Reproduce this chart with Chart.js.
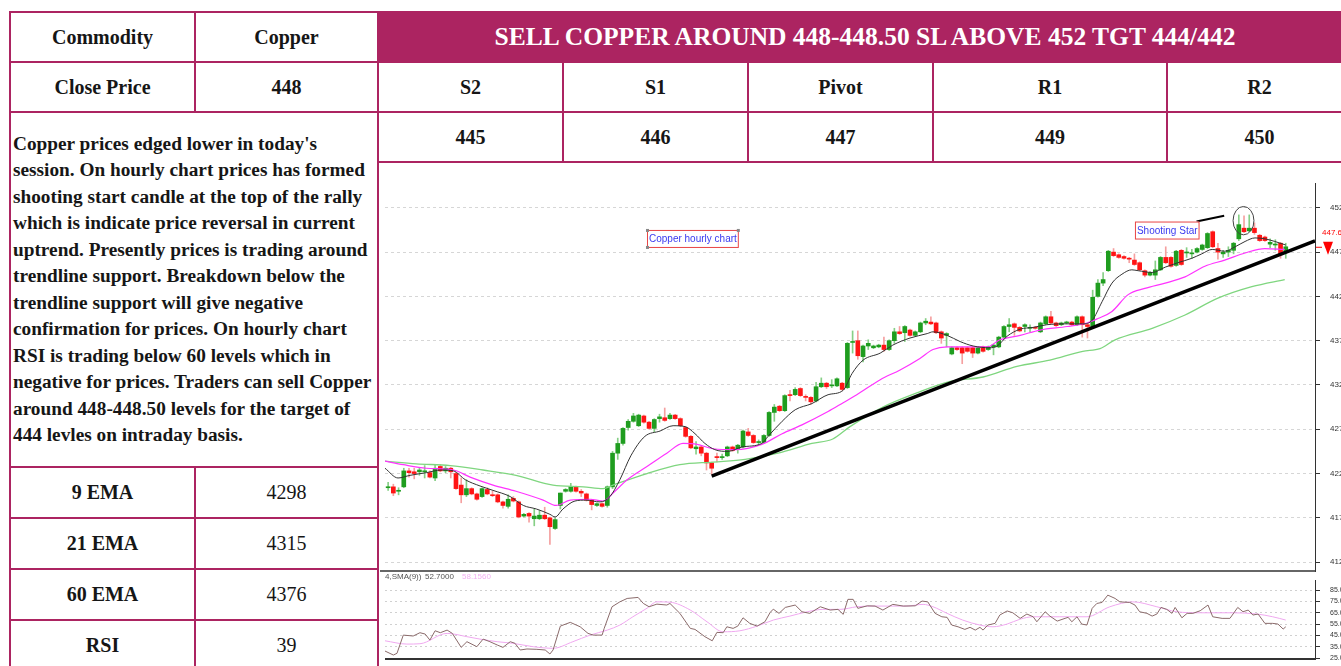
<!DOCTYPE html>
<html>
<head>
<meta charset="utf-8">
<script src="https://cdn.jsdelivr.net/npm/chart.js@4.4.1/dist/chart.umd.min.js"></script>
<style>
html,body{margin:0;padding:0;background:#fff;overflow:hidden;width:1341px;height:666px;}
.c{position:absolute;box-sizing:border-box;border:2px solid #ac2461;display:flex;align-items:center;justify-content:center;
   font-family:"Liberation Serif",serif;font-size:20px;font-weight:bold;color:#161616;white-space:nowrap;}
.n{font-weight:normal;}
#hdr{background:#ac2461;color:#fff;font-size:25.5px;}
#txt{justify-content:flex-start;padding-left:2px;font-size:19.3px;line-height:26.5px;}
canvas{position:absolute;}
</style>
</head>
<body>
<div class="c" style="left:9px;top:11px;width:187px;height:52px">Commodity</div>
<div class="c" style="left:194px;top:11px;width:185px;height:52px">Copper</div>
<div class="c" style="left:9px;top:61px;width:187px;height:52px">Close Price</div>
<div class="c" style="left:194px;top:61px;width:185px;height:52px">448</div>
<div class="c" id="txt" style="left:9px;top:111px;width:370px;height:357px"><div>Copper prices edged lower in today's<br>session. On hourly chart prices has formed<br>shooting start candle at the top of the rally<br>which is indicate price reversal in current<br>uptrend. Presently prices is trading around<br>trendline support. Breakdown below the<br>trendline support will give negative<br>confirmation for prices. On hourly chart<br>RSI is trading below 60 levels which in<br>negative for prices. Traders can sell Copper<br>around 448-448.50 levels for the target of<br>444 levles on intraday basis.</div></div>
<div class="c" style="left:9px;top:466px;width:187px;height:53px">9 EMA</div>
<div class="c n" style="left:194px;top:466px;width:185px;height:53px">4298</div>
<div class="c" style="left:9px;top:517px;width:187px;height:53px">21 EMA</div>
<div class="c n" style="left:194px;top:517px;width:185px;height:53px">4315</div>
<div class="c" style="left:9px;top:568px;width:187px;height:53px">60 EMA</div>
<div class="c n" style="left:194px;top:568px;width:185px;height:53px">4376</div>
<div class="c" style="left:9px;top:619px;width:187px;height:53px">RSI</div>
<div class="c n" style="left:194px;top:619px;width:185px;height:53px">39</div>

<div class="c" id="hdr" style="left:377px;top:11px;width:976px;height:52px">SELL COPPER AROUND 448-448.50 SL ABOVE 452 TGT 444/442</div>
<div class="c" style="left:377px;top:61px;width:187px;height:52px">S2</div>
<div class="c" style="left:562px;top:61px;width:187px;height:52px">S1</div>
<div class="c" style="left:747px;top:61px;width:187px;height:52px">Pivot</div>
<div class="c" style="left:932px;top:61px;width:236px;height:52px">R1</div>
<div class="c" style="left:1166px;top:61px;width:187px;height:52px">R2</div>
<div class="c" style="left:377px;top:111px;width:187px;height:52px">445</div>
<div class="c" style="left:562px;top:111px;width:187px;height:52px">446</div>
<div class="c" style="left:747px;top:111px;width:187px;height:52px">447</div>
<div class="c" style="left:932px;top:111px;width:236px;height:52px">449</div>
<div class="c" style="left:1166px;top:111px;width:187px;height:52px">450</div>
<div class="c" style="left:377px;top:161px;width:976px;height:511px"></div>

<canvas id="priceCanvas" width="970" height="408" style="left:380px;top:164px"></canvas>
<canvas id="rsiCanvas" width="970" height="97" style="left:380px;top:572px"></canvas>

<script>
// hourly candles
const opens = [
420.4,420.5,420.0,420.5,422.3,422.2,422.2,422.2,422.1,421.5,
422.8,422.3,422.6,422.0,420.7,419.6,420.3,419.7,419.4,420.2,
419.6,419.6,418.8,418.3,419.2,418.8,417.2,417.5,416.9,416.9,
417.3,417.0,415.8,418.4,420.0,420.0,420.5,420.0,419.7,419.0,
418.4,418.6,418.4,420.5,424.3,425.4,427.2,427.9,427.4,428.5,
427.8,427.1,428.2,428.3,428.2,428.6,428.2,427.2,426.2,424.8,
425.0,424.3,423.2,423.9,423.8,424.0,425.0,424.7,425.0,426.7,
426.3,425.5,425.5,426.3,428.9,429.6,429.1,430.9,430.9,431.6,
430.7,430.6,430.2,431.8,432.2,431.9,431.9,432.2,431.7,436.8,
437.0,435.2,436.4,436.2,436.3,436.5,436.0,437.0,438.0,437.9,
438.2,437.6,438.0,439.0,439.1,439.0,438.0,437.6,435.5,436.2,
436.2,436.2,436.2,435.6,436.3,436.0,436.3,436.3,437.4,438.6,
438.9,438.5,438.6,438.4,438.5,438.0,438.9,439.7,439.0,438.8,
439.0,439.1,438.8,439.7,438.8,438.6,442.0,443.5,444.9,447.0,
446.7,446.5,446.3,446.1,445.8,444.9,444.4,444.4,445.0,446.4,
446.4,445.5,447.2,446.9,446.8,447.0,447.3,447.5,449.3,447.4,
446.8,447.0,447.2,448.5,449.7,449.4,449.7,448.9,448.7,447.9,
447.8,448.0,447.0];
const highs = [
421.0,420.8,420.4,422.6,422.6,422.6,422.6,422.9,422.3,423.0,
423.0,422.8,422.7,422.1,421.5,421.3,420.4,419.8,420.4,420.4,
420.0,419.7,418.9,419.6,419.4,418.9,417.5,417.6,418.0,417.8,
418.2,417.1,417.0,419.8,420.3,420.9,420.6,420.2,419.8,419.1,
418.7,418.7,420.6,424.5,426.0,427.2,428.1,428.8,428.7,428.6,
427.9,428.2,428.7,429.4,428.8,428.7,428.3,427.3,426.3,425.6,
425.1,424.4,423.3,424.3,424.2,425.1,425.1,425.3,426.9,427.1,
426.4,425.8,426.4,429.0,429.8,429.7,430.9,431.4,431.7,431.7,
430.9,430.7,432.3,432.8,432.3,432.6,432.8,432.3,436.8,438.1,
438.1,436.5,437.1,436.5,436.6,437.4,437.1,438.4,438.6,438.7,
438.3,438.1,439.1,439.5,439.7,439.1,438.1,437.9,436.3,436.3,
436.3,436.3,436.3,436.3,436.4,436.4,436.6,437.5,438.7,439.5,
439.0,438.6,438.9,438.8,438.6,439.1,439.8,440.3,439.1,439.1,
439.2,439.2,439.8,439.8,438.9,442.7,443.9,444.7,447.2,447.4,
446.8,446.6,446.4,446.8,445.9,445.0,444.8,446.0,446.5,447.6,
446.5,447.2,447.3,447.5,447.3,447.5,447.9,449.2,449.4,448.0,
447.2,447.6,448.1,451.2,451.1,451.2,450.3,449.0,448.8,448.5,
448.4,448.1,448.0];
const lows = [
420.1,419.5,419.6,420.4,421.6,421.4,421.8,421.5,421.5,421.2,
422.2,422.1,421.5,420.2,418.7,419.4,419.6,419.0,419.3,419.6,
419.4,418.7,418.1,418.1,418.8,417.0,417.1,416.5,416.1,416.8,
416.8,414.0,415.7,418.0,419.9,419.9,419.9,419.4,418.9,417.9,
418.3,418.2,418.2,420.3,423.6,425.2,426.9,427.8,427.3,427.7,
427.0,426.7,427.8,427.9,428.1,428.1,427.3,426.1,424.8,424.2,
424.0,422.4,421.9,423.3,423.6,423.9,424.5,424.3,424.9,426.2,
425.4,425.3,425.4,426.2,427.9,429.0,429.0,430.2,430.8,430.7,
430.2,429.8,430.1,431.7,431.6,431.7,431.8,431.4,431.6,435.6,
434.9,434.6,436.0,436.1,436.2,435.8,435.9,436.7,437.7,436.9,
437.5,437.5,437.9,438.8,438.8,437.8,436.7,436.3,435.4,435.9,
434.4,435.7,435.1,435.5,435.7,435.9,435.4,436.2,437.3,438.0,
437.6,438.0,438.0,438.0,438.3,437.9,438.8,438.9,438.6,438.7,
438.9,438.7,438.7,437.4,437.3,438.5,441.9,443.2,444.8,446.5,
446.3,446.2,445.8,445.5,444.9,444.2,444.3,443.9,444.9,445.7,
445.3,445.4,445.5,446.4,446.3,446.9,447.2,447.4,447.5,446.2,
446.4,446.5,446.8,448.3,449.2,449.3,449.0,448.2,448.2,447.5,
447.2,446.3,446.3];
const closes = [
420.5,419.8,420.1,422.3,422.1,422.0,422.4,422.3,421.6,422.6,
422.3,422.6,422.2,420.3,419.6,420.3,419.7,419.1,420.3,419.7,
419.5,418.8,418.4,419.1,418.9,417.1,417.4,417.2,417.2,417.3,
416.9,416.0,416.8,419.8,420.2,420.5,420.0,419.8,419.0,418.5,
418.6,418.3,420.5,424.3,425.4,427.1,427.9,428.5,428.6,427.8,
427.1,428.1,428.4,428.0,428.6,428.2,427.4,426.2,424.9,425.0,
424.3,423.2,422.6,423.8,423.9,425.0,424.6,425.2,426.8,426.3,
425.5,425.6,426.3,428.9,429.5,429.1,430.8,430.8,431.5,430.8,
430.6,430.1,431.8,432.2,431.8,432.0,432.7,431.5,436.7,436.9,
435.3,436.4,436.7,436.4,436.5,436.0,437.0,438.0,437.8,438.6,
437.6,438.0,439.0,439.2,438.9,437.9,437.3,437.8,436.2,436.0,
435.6,435.8,435.6,436.2,435.8,436.3,436.5,437.4,438.6,438.8,
438.5,438.1,438.8,438.5,438.4,439.0,439.7,439.0,438.7,439.0,
439.1,438.8,439.7,438.8,438.6,441.9,443.5,443.9,447.1,446.6,
446.4,446.3,446.2,445.6,445.0,444.4,444.7,445.0,446.4,445.8,
445.4,447.1,445.6,447.0,446.9,447.4,447.8,449.1,447.6,447.0,
447.0,447.2,448.0,450.1,449.3,449.7,449.2,448.3,448.3,448.1,
447.9,446.7,447.6];

// moving averages (bar number, price)
const ema9Idx = [-0.6,1.9,4.2,7.3,10.2,12.5,14.8,17.6,20.1,23.4,25.9,28.4,31,32,33.5,35.8,37.9,40.6,42.5,44.4,
  46.5,49.2,52.1,54.6,56.9,58.8,60.7,62.6,65.1,67.8,71.6,72.8,75.5,78,81.2,84.3,87.2,88.9,91,94.3,
  96.7,100,103.3,104.4,107.1,109.6,112.1,115.3,116.7,118.6,121.1,123.6,126.2,130.1,133.1,134.9,136.8,138.7,140.6,142.5,
  143.7,146.4,148.9,151.3,154,155.9,157.9,160.3,162.3,164.2,166.1,168,169.9,172];
const ema9Val = [422.6,421.5,421.8,422.1,422.4,422.3,421.3,420.6,420.1,419.4,418.4,418.0,417.4,417.1,418.0,418.9,419.0,418.8,419.4,421.3,
  424.0,426.2,426.8,427.4,427.3,426.5,425.4,424.7,424.5,425.0,425.4,426.2,427.9,429.2,429.9,430.9,431.4,433.3,434.8,435.6,
  436.5,437.3,437.8,438.0,437.6,436.9,436.4,436.2,436.4,437.5,438.3,438.5,438.8,438.9,438.9,439.3,441.4,443.5,444.5,445.0,
  444.9,444.7,445.3,445.8,446.3,446.8,447.3,447.1,447.6,448.2,448.6,448.5,448.2,447.8];
const ema21Idx = [-0.6,2.9,7.3,12.5,15.7,20.1,24.5,29.7,32.2,34.9,38.7,41.2,43.1,45.8,49.6,53.4,56.5,59.2,62.3,66.5,
  71.6,75.5,79.3,84.3,87.2,89.8,94.3,98.1,101.9,104.4,107.1,110.9,114.8,117.2,121.1,124.9,130.1,133.9,136,138.7,
  141.8,145,148.9,152.7,156.5,160.3,164.2,168,171.8];
const ema21Val = [423.4,423.0,422.6,422.4,421.6,420.7,420.0,419.0,418.4,419.0,419.1,418.9,419.8,421.3,422.8,424.3,425.4,425.3,424.8,424.7,
  425.3,426.5,427.5,429.0,430.0,430.9,432.6,433.7,435.0,436.0,436.3,436.3,436.3,437.1,437.6,438.2,438.6,439.0,439.5,440.3,
  442.2,442.9,443.5,444.2,445.4,446.1,446.9,447.4,447.3];
const ema60Idx = [-0.6,5.4,11.9,18.2,24.5,31.6,37.4,41.2,43.1,49.6,55.9,62.3,68.4,74.7,81.2,85.2,88.5,94.8,101.3,107.7,
  114,120.5,126.8,133.1,136.4,139.3,146.4,152.7,159,165.5,171.8];
const ema60Val = [423.4,423.1,422.9,422.4,421.8,420.7,420.5,420.3,420.7,422.0,423.0,423.3,423.6,424.3,425.4,425.9,427.3,429.5,431.1,432.4,
  432.9,434.1,434.8,435.8,436.1,437.1,438.4,439.9,441.8,443.1,443.9];

// drawn lines and notes
const trendIdx = [62.0, 177.6];
const trendVal = [421.7, 448.27];
const starIdx = [154.9, 160.2];
const starVal = [450.45, 451.1];
const circleAt = [163.9, 450.55];
const noteTexts = ['Copper hourly chart', 'Shooting Star'];
const noteIdx = [49.6, 143.1];
const noteVal = [449.5, 450.45];
const priceTicks = [412, 417, 422, 427, 432, 437, 442, 447, 452];

// RSI panel
const rsiIdx = [-0.6,1,1.7,2.9,4.8,6.1,7.1,8,9,10,11.3,12.3,14,15.1,17,18.2,19.5,20.9,22,23.4,
  24.3,25.3,26.6,28.5,30.1,31,31.6,33,34.9,36.8,38.3,39.3,41,41.4,42.9,44.4,45.8,47.9,48.9,50,
  51.5,53.4,54,55.9,57.9,58.8,60.7,62.1,63,64.2,64.9,66.1,67,68,69.3,70.7,72.2,73.2,73.8,74.9,
  76.1,78,79.3,80.8,82.8,84.7,86.2,87.2,88.1,89.1,90,91.8,93.3,94.8,96.7,98.7,101,102.3,103.4,104.8,
  106.1,107.1,108,109.2,110.5,111.5,112.5,113.4,114,114.9,116.3,117.2,118.6,119.7,121.1,122.4,123.6,124.3,125.9,126.8,
  128.2,129.7,130.3,131,132,132.9,133.9,134.9,135.8,136.8,137.9,139.3,140.2,142.1,143.1,144,145.4,146.4,147.3,148.1,
  149.2,150.2,150.8,152.1,153.1,154.2,155.6,157.1,158,159.8,161.3,162.8,163.8,164.8,165.7,166.7,168,169.5,170.5,171.5,172];
const rsiVal = [31.4,27.9,29.4,45.4,44.6,47.5,46.3,41.0,49.2,47.5,49.8,46.9,34.6,39.6,35.2,41.9,39.6,36.7,34.6,39.6,
  38.2,32.3,33.2,32.9,32.3,28.8,32.3,53.3,56.6,52.7,46.9,45.4,45.4,51.3,70.3,74.6,77.6,78.5,73.2,70.3,
  72.6,71.8,73.2,64.5,51.3,50.4,44.0,40.4,47.8,47.5,52.7,51.3,53.3,60.6,55.7,53.3,57.1,65.3,68.2,64.5,
  69.7,71.8,65.9,64.5,70.3,67.4,68.0,63.6,76.8,76.8,68.9,71.1,70.9,67.4,72.4,70.9,71.1,75.3,74.6,64.5,
  61.5,61.0,54.2,52.7,50.4,52.2,49.8,52.2,49.8,54.2,55.7,63.0,66.6,65.0,60.1,63.9,61.5,57.1,65.9,62.1,
  57.7,60.1,61.0,57.1,61.5,55.1,54.2,68.9,73.2,74.1,80.5,77.6,74.6,74.1,71.8,65.9,64.5,62.1,63.9,69.7,
  68.0,64.5,69.7,60.6,64.5,64.5,66.8,71.8,61.5,60.1,60.1,69.7,65.9,67.4,63.0,63.9,55.7,55.7,55.1,50.7,52.7];
const smaIdx = [-0.6,3.6,6.1,11.3,15.1,17.6,20.9,23.9,27.8,31.6,35.4,38.7,42,44.4,46.9,49.6,51.5,54,57.9,61.1,
  64.2,67.4,70.7,73.8,77,80.3,83.3,86.6,89.8,92.9,99.4,102.5,104.4,107.1,110.1,113.4,115.9,118.6,121.1,123.6,
  128.7,133.9,138.3,142.7,147.3,151.1,155.6,161.9,166.5,169.5,172];
const smaVal = [40.4,37.5,37.8,46.9,44.0,41.9,39.6,38.2,35.2,33.8,39.6,45.4,49.8,54.2,61.5,69.0,74.6,74.3,67.4,57.1,
  48.3,49.2,53.3,58.6,62.1,65.9,68.0,68.0,70.3,70.9,70.9,72.4,70.3,64.5,58.6,54.2,52.7,55.1,59.4,61.5,
  61.5,61.5,70.3,74.6,70.3,65.9,65.0,65.0,63.9,61.5,58.6];
const rsiTicks = [25, 35, 45, 55, 65, 75, 85];
const rsiLegend = ['4,SMA(9))', '52.7000', '58.1560'];

const upBody = '#1f9d1f', dnBody = '#ff1414', upWick = '#86cf86', dnWick = '#f5a0a0';
const bars = opens.map((_, i) => i);
const pts = (xs, ys) => xs.map((x, k) => ({x: x, y: ys[k]}));

function lineSet(data, color, width, smooth, order) {
  return {type: 'line', data: data, borderColor: color, borderWidth: width, pointRadius: 0,
          tension: 0, cubicInterpolationMode: smooth ? 'monotone' : 'default', fill: false, order: order};
}

// right axis: fixed width, no extra label padding above/below the plot
function fitAxis(s) {
  s.width = 35;
  s.paddingTop = 0;
  s.paddingBottom = 0;
}

const priceNotes = {
  id: 'priceNotes',
  afterDraw(chart) {
    const {ctx, chartArea: a, scales: {x, y}} = chart;
    ctx.save();
    ctx.strokeStyle = '#333';
    ctx.lineWidth = 1.5;
    ctx.beginPath(); ctx.moveTo(0, a.bottom); ctx.lineTo(a.right, a.bottom); ctx.stroke();

    const cx = x.getPixelForValue(circleAt[0]), cy = y.getPixelForValue(circleAt[1]);
    ctx.lineWidth = 1; ctx.strokeStyle = '#444';
    ctx.beginPath();
    ctx.ellipse(cx, cy, x.getPixelForValue(circleAt[0] + 2) - cx, y.getPixelForValue(circleAt[1] - 1.6) - cy, 0, 0, Math.PI * 2);
    ctx.stroke();

    ctx.font = '10px "Liberation Sans", Arial';
    ctx.textBaseline = 'middle';
    noteTexts.forEach((t, k) => {
      const nx = x.getPixelForValue(noteIdx[k]), ny = y.getPixelForValue(noteVal[k]);
      const w = ctx.measureText(t).width + 3, h = 17;
      ctx.fillStyle = '#fff'; ctx.fillRect(nx, ny, w, h);
      ctx.strokeStyle = '#e84545'; ctx.lineWidth = 1;
      ctx.strokeRect(nx + 0.5, ny + 0.5, w, h);
      ctx.fillStyle = '#3a3af0';
      ctx.fillText(t, nx + 2, ny + h / 2 + 1);
      if (k === 0) {
        ctx.fillStyle = '#888';
        ctx.fillRect(nx - 1, ny - 1, 3, 3);
        ctx.fillRect(nx - 1, ny + h - 1, 3, 3);
        ctx.fillRect(nx + w - 1, ny - 1, 3, 3);
      }
    });

    const last = closes[closes.length - 1];
    const py = y.getPixelForValue(last);
    ctx.strokeStyle = '#ff0000'; ctx.lineWidth = 1;
    ctx.beginPath(); ctx.moveTo(a.right + 1, py + 0.5); ctx.lineTo(a.right + 7, py + 0.5); ctx.stroke();
    ctx.fillStyle = '#ff0000';
    ctx.beginPath();
    ctx.moveTo(a.right + 8, py - 5); ctx.lineTo(a.right + 18, py - 5); ctx.lineTo(a.right + 13, py + 8);
    ctx.closePath(); ctx.fill();
    ctx.font = '8px "Liberation Sans", Arial';
    ctx.fillText(last.toFixed(2), a.right + 7, py - 14);
    ctx.restore();
  }
};

new Chart(document.getElementById('priceCanvas'), {
  type: 'bar',
  data: {
    datasets: [
      lineSet(pts(trendIdx, trendVal), '#000', 3.5, false, -2),
      lineSet(pts(starIdx, starVal), '#000', 2.2, false, -2),
      lineSet(pts(ema9Idx, ema9Val), '#333', 1, true, 0),
      lineSet(pts(ema21Idx, ema21Val), '#ff33ff', 1.2, true, 0),
      lineSet(pts(ema60Idx, ema60Val), '#7fd67f', 1.3, true, 0),
      {type: 'bar', data: bars.map(i => ({x: i, y: [opens[i], closes[i]]})),
       backgroundColor: bars.map(i => closes[i] >= opens[i] ? upBody : dnBody),
       barThickness: 4, minBarLength: 1, grouped: false, order: 1},
      {type: 'bar', data: bars.map(i => ({x: i, y: [lows[i], highs[i]]})),
       backgroundColor: bars.map(i => closes[i] >= opens[i] ? upWick : dnWick),
       barThickness: 1, grouped: false, order: 2}
    ]
  },
  options: {
    responsive: false,
    animation: false,
    layout: {padding: {left: 5, top: 19, bottom: 1, right: 0}},
    plugins: {legend: {display: false}, tooltip: {enabled: false}},
    scales: {
      x: {type: 'linear', min: -0.6, max: 177.6, display: false, offset: false},
      y: {
        position: 'right', min: 411.0, max: 454.8,
        afterBuildTicks: s => { s.ticks = priceTicks.map(v => ({value: v})); },
        afterFit: fitAxis,
        grid: {color: '#d6d6d6', tickColor: '#333', tickLength: 5, lineWidth: 1},
        border: {display: true, color: '#333', width: 1, dash: [3, 3]},
        ticks: {font: {family: 'Liberation Sans', size: 8}, color: '#333', padding: 10,
                callback: v => Number(v).toFixed(2)}
      }
    }
  },
  plugins: [priceNotes]
});

const rsiNotes = {
  id: 'rsiNotes',
  afterDraw(chart) {
    const {ctx, chartArea: a} = chart;
    ctx.save();
    ctx.strokeStyle = '#333'; ctx.lineWidth = 2;
    ctx.beginPath(); ctx.moveTo(a.left, a.bottom); ctx.lineTo(a.right, a.bottom); ctx.stroke();
    ctx.font = '8px "Liberation Sans", Arial';
    ctx.textBaseline = 'middle';
    ctx.fillStyle = '#555';
    ctx.fillText(rsiLegend[0], a.left, 5);
    ctx.fillText(rsiLegend[1], a.left + 40, 5);
    ctx.fillStyle = '#f2b0f2';
    ctx.fillText(rsiLegend[2], a.left + 77, 5);
    ctx.restore();
  }
};

new Chart(document.getElementById('rsiCanvas'), {
  type: 'line',
  data: {
    datasets: [
      lineSet(pts(rsiIdx, rsiVal), '#8a6a6a', 1, false, 0),
      lineSet(pts(smaIdx, smaVal), '#f0a8f0', 1, true, 1)
    ]
  },
  options: {
    responsive: false,
    animation: false,
    layout: {padding: {left: 5, top: 8, bottom: 10, right: 0}},
    plugins: {legend: {display: false}, tooltip: {enabled: false}},
    scales: {
      x: {type: 'linear', min: -0.6, max: 177.6, display: false},
      y: {
        position: 'right', min: 24.4, max: 93.8,
        afterBuildTicks: s => { s.ticks = rsiTicks.map(v => ({value: v})); },
        afterFit: fitAxis,
        grid: {color: '#d0d0d0', tickColor: '#333', tickLength: 5, lineWidth: 1},
        border: {display: true, color: '#333', width: 1, dash: [2, 3]},
        ticks: {font: {family: 'Liberation Sans', size: 7}, color: '#333', padding: 10,
                callback: v => Number(v).toFixed(2)}
      }
    }
  },
  plugins: [rsiNotes]
});
</script>
</body>
</html>
